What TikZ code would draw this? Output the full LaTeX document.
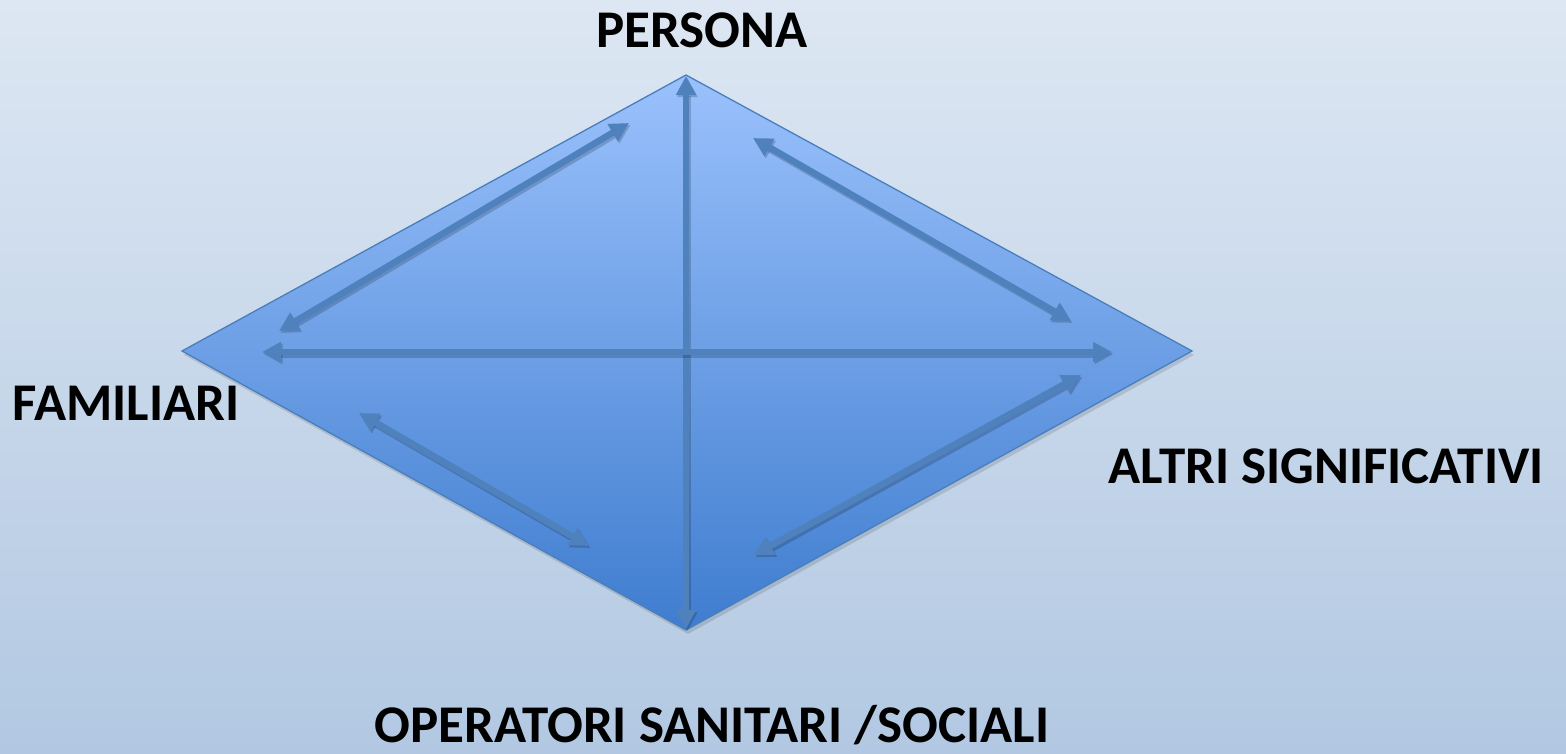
\documentclass[tikz,border=0pt]{standalone}
\usepackage{fontspec}
\setmainfont{Carlito}
\usetikzlibrary{arrows.meta}
\definecolor{bgtop}{HTML}{DDE7F3}
\definecolor{bgbot}{HTML}{B2C8E2}
\definecolor{dtop}{HTML}{9AC1FC}
\definecolor{dbot}{HTML}{3F7DCF}
\definecolor{edge}{HTML}{4A7EBB}
\definecolor{arrowc}{HTML}{4F81BD}
\tikzset{
  link/.style={arrowc, line width=6.5pt,
    {Triangle[length=19pt,width=19pt]}-{Triangle[length=19pt,width=19pt]},
    preaction={draw=black, opacity=0.18, line width=7.5pt, transform canvas={shift={(1.5pt,-2pt)}}}},
  lbl/.style={font=\bfseries\fontsize{53}{60}\selectfont, text=black, inner sep=0pt, anchor=base}
}
\begin{document}
\begin{tikzpicture}[x=1pt,y=-1pt]
  \shade[top color=bgtop, bottom color=bgbot] (0,0) rectangle (1566,753);
  \useasboundingbox (0,0) rectangle (1566,753);
  % diamond corners
  \coordinate (T) at (686,75);
  \coordinate (L) at (182,351);
  \coordinate (R) at (1192,351);
  \coordinate (B) at (686,630);
  % soft shadow under the diamond
  \fill[black, opacity=0.12] ([shift={(2,4)}]T) -- ([shift={(2,4)}]R) -- ([shift={(2,4)}]B) -- ([shift={(2,4)}]L) -- cycle;
  \shade[top color=dtop, bottom color=dbot, draw=edge, line width=1.3pt] (T) -- (R) -- (B) -- (L) -- cycle;
  % arrow end points
  \coordinate (v1) at (686,76);  \coordinate (v2) at (686,629);
  \coordinate (h1) at (262,352); \coordinate (h2) at (1112,352);
  \coordinate (a1) at (279,331); \coordinate (a2) at (629,123);
  \coordinate (b1) at (753,138); \coordinate (b2) at (1071,321);
  \coordinate (c1) at (359,413); \coordinate (c2) at (589,546);
  \coordinate (d1) at (754,555); \coordinate (d2) at (1081,375);
  \draw[link] (v1) -- (v2);
  \draw[link] (h1) -- (h2);
  \draw[link] (a1) -- (a2);
  \draw[link] (b1) -- (b2);
  \draw[link] (c1) -- (c2);
  \draw[link] (d1) -- (d2);
  % labels
  \node[lbl] (persona) at (702,47) {PERSONA};
  \node[lbl] (fam) at (126,420) {FAMILIARI};
  \node[lbl] (altri) at (1326,483) {ALTRI SIGNIFICATIVI};
  \node[lbl] (oper) at (712,742) {OPERATORI SANITARI /SOCIALI};
\end{tikzpicture}
\end{document}
